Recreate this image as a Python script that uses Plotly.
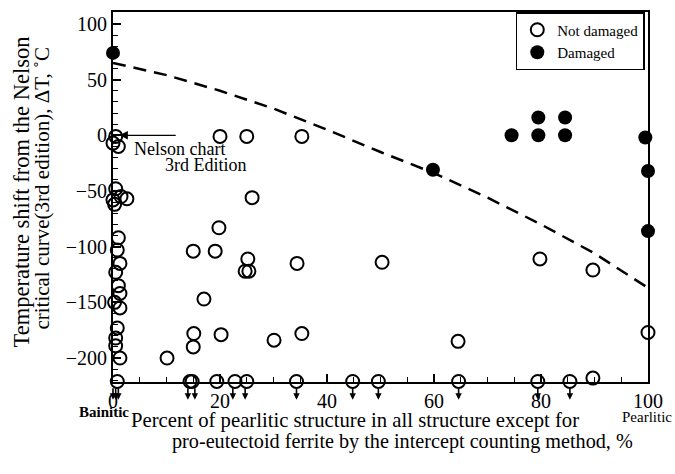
import plotly.graph_objects as go

# ---------------- data ----------------
# Not damaged (open circles)
nd_x = [0.5, 0.0, 1.0, 0.5, 0.0, 1.5, 2.6, 0.3,
        -0.2, 1.0, -0.2, 0.8, -0.3, 1.3, 0.5, -0.1, 1.0, -0.2, 1.3, 0.3, 1.3, -0.1, 0.8, 0.5, 0.5, -0.1, 1.3, -0.2,
        20.0, 25.0, 35.3, 26.0, 19.8, 15.0, 19.1, 25.2, 24.7, 25.4, 34.4, 17.0, 15.1, 15.0, 20.2, 30.1, 35.3, 10.1,
        50.3, 64.5, 79.8, 89.7, 100.0, 89.7]
nd_y = [-1, -7, -10, -48, -58, -55, -57, -62,
        -88, -92, -99, -103, -112, -115, -123, -132, -135, -141, -142, -150, -155, -160, -173, -182, -189, -200, -200, -209,
        -1, -1, -1, -56, -83, -104, -104, -111, -122, -122, -115, -147, -178, -190, -179, -184, -178, -200,
        -114, -185, -111, -121, -177, -218]

# "Less than" points sitting on the bottom axis (open circles)
lt_x = [0.8, 14.4, 14.8, 19.4, 22.8, 25.0, 34.3, 44.8, 49.6, 64.6, 79.4, 85.4]
lt_y = [-221, -221, -221, -221, -221, -221, -221, -221, -221, -221, -221, -221]
# x positions of the downward "less than" arrows
arrow_x = [0.0, 0.5, 1.0, 14.0, 15.3, 22.4, 24.7, 34.3, 44.8, 49.6, 64.6, 79.4, 85.4]

# Damaged (filled circles)
d_x = [0.0, 59.8, 74.5, 79.5, 79.5, 84.5, 84.5, 99.5, 100.4, 100.0, 100.0]
d_y = [74, -31, 0, 0, 16, 0, 16, -2, -7, -32, -86]

# Dashed boundary curve
curve_x = [0, 10, 20, 30, 40, 50, 60, 70, 80, 90, 100]
curve_y = [65, 54, 40, 24, 5, -15, -34, -56, -80, -106, -137]

x_ticks = [0, 20, 40, 60, 80, 100]
y_ticks = [100, 50, 0, -50, -100, -150, -200]

FONT = "Liberation Serif"

fig = go.Figure()

fig.add_trace(go.Scatter(
    x=curve_x, y=curve_y, mode="lines",
    line=dict(color="black", width=2.5, dash="13px,8px"),
    showlegend=False, hoverinfo="skip"))

fig.add_trace(go.Scatter(
    x=nd_x + lt_x, y=nd_y + lt_y, mode="markers", name="Not damaged",
    marker=dict(symbol="circle-open", size=13, color="black", line=dict(width=2)),
    cliponaxis=False))

fig.add_trace(go.Scatter(
    x=d_x, y=d_y, mode="markers", name="Damaged",
    marker=dict(symbol="circle", size=14, color="black"),
    cliponaxis=False))

# "less than" arrows below the bottom axis
for ax_x in arrow_x:
    fig.add_annotation(x=ax_x, y=-0.048, xref="x", yref="paper", ax=0, ay=-13,
                       text="", showarrow=True, arrowhead=2, arrowsize=0.8,
                       arrowwidth=1.6, arrowcolor="black")

# Nelson chart arrow
fig.add_annotation(x=1.2, y=0, ax=12, ay=0, axref="x", ayref="y", xref="x", yref="y",
                   text="", showarrow=True, arrowhead=2, arrowsize=1.3, arrowwidth=1.3,
                   arrowcolor="black")
fig.add_annotation(x=12.5, y=-12.5, xref="x", yref="y",
                   text="Nelson chart", showarrow=False,
                   font=dict(family=FONT, size=18, color="black"))
fig.add_annotation(x=17.4, y=-27, xref="x", yref="y",
                   text="3rd Edition", showarrow=False,
                   font=dict(family=FONT, size=18, color="black"))

# x-axis title (two lines, second shifted right)
fig.add_annotation(x=0.452, y=-0.104, xref="paper", yref="paper", xanchor="center", yanchor="middle",
                   text="Percent of pearlitic structure in all structure except for",
                   showarrow=False, font=dict(family=FONT, size=20.7, color="black"))
fig.add_annotation(x=0.542, y=-0.162, xref="paper", yref="paper", xanchor="center", yanchor="middle",
                   text="pro-eutectoid ferrite by the intercept counting method, %",
                   showarrow=False, font=dict(family=FONT, size=20.2, color="black"))
# y-axis title (two lines)
fig.add_annotation(x=-0.172, y=0.515, xref="paper", yref="paper", xanchor="center", yanchor="middle",
                   textangle=-90, text="Temperature shift from the Nelson",
                   showarrow=False, font=dict(family=FONT, size=22.5, color="black"))
fig.add_annotation(x=-0.133, y=0.525, xref="paper", yref="paper", xanchor="center", yanchor="middle",
                   textangle=-90, text="critical curve(3rd edition), \u0394T, \u02daC",
                   showarrow=False, font=dict(family=FONT, size=21, color="black"))
# end labels
fig.add_annotation(x=-0.017, y=-0.08, xref="paper", yref="paper", xanchor="center", yanchor="middle",
                   text="<b>Bainitic</b>", showarrow=False,
                   font=dict(family=FONT, size=15, color="black"))
fig.add_annotation(x=0.998, y=-0.094, xref="paper", yref="paper", xanchor="center", yanchor="middle",
                   text="Pearlitic", showarrow=False,
                   font=dict(family=FONT, size=15, color="black"))

axis_common = dict(
    showline=True, linecolor="black", linewidth=2, mirror=True,
    ticks="inside", ticklen=8, tickwidth=1.5, tickcolor="black",
    showgrid=False, zeroline=False,
    tickfont=dict(family=FONT, size=20, color="black"),
)

fig.update_xaxes(range=[0, 100], tickmode="array", tickvals=x_ticks,
                 minor=dict(dtick=5, ticks="inside", ticklen=5, tickwidth=1.2, tickcolor="black"),
                 **axis_common)
fig.update_yaxes(range=[-221.5, 110.7], tickmode="array", tickvals=y_ticks,
                 minor=dict(dtick=10, ticks="inside", ticklen=5, tickwidth=1.2, tickcolor="black"),
                 **axis_common)

fig.update_layout(
    width=675, height=474,
    margin=dict(l=113, r=27, t=10, b=92),
    paper_bgcolor="white", plot_bgcolor="white",
    font=dict(family=FONT, color="black"),
    legend=dict(x=0.994, y=1.0, xanchor="right", yanchor="top",
                bgcolor="white", bordercolor="black", borderwidth=1.5,
                font=dict(family=FONT, size=15, color="black"),
                itemwidth=30, tracegroupgap=0),
)

fig.write_html("out.html")
